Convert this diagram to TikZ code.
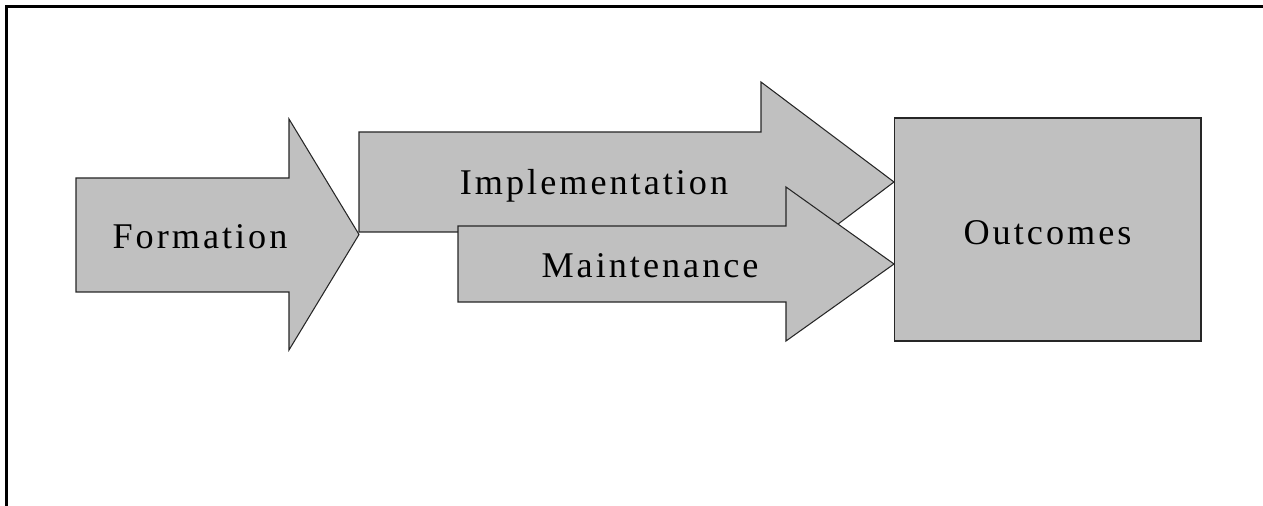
\documentclass[tikz,border=0pt]{standalone}
\usepackage{fontspec}
\setmainfont{Liberation Serif}[LetterSpace=8.3]
\usetikzlibrary{positioning}
\definecolor{silver}{HTML}{C0C0C0}
\tikzstyle{blockarrow} = [fill=silver, draw=black!85, line width=0.6pt, line join=miter]
\tikzstyle{stagetext} = [anchor=base, inner sep=0pt, font=\fontsize{20.6}{24}\selectfont]
\tikzstyle{resultbox} = [rectangle, fill=silver, draw=black!85, line width=0.6pt, inner sep=0pt,
minimum width=6.14cm, minimum height=4.46cm]
\tikzstyle{frame} = [line width=1.2pt]

\begin{document}
\begin{tikzpicture}[x=0.02cm, y=-0.02cm]
  \useasboundingbox (0,0) rectangle (1263,506);
  \draw [frame] (6.5,506) -- (6.5,6.5) -- (1263,6.5);

  % the three stages
  \draw [blockarrow] (76,178) -- (289,178) -- (289,119) -- (359,234.5) -- (289,350) -- (289,292) -- (76,292) -- cycle;
  \draw [blockarrow] (359,132) -- (761,132) -- (761,82) -- (894,182) -- (761,282) -- (761,232) -- (359,232) -- cycle;
  \draw [blockarrow] (458,226) -- (786,226) -- (786,187) -- (894,264) -- (786,341) -- (786,302) -- (458,302) -- cycle;

  \node (form) [stagetext] at (200,249) {Formation};
  \node (impl) [stagetext] at (594,195) {Implementation};
  \node (main) [stagetext] at (650,277) {Maintenance};

  \node (out) [resultbox] at (1047.5,229.5) {};
  \node (outlabel) [stagetext] at (1047.5,245) {Outcomes};
\end{tikzpicture}
\end{document}
